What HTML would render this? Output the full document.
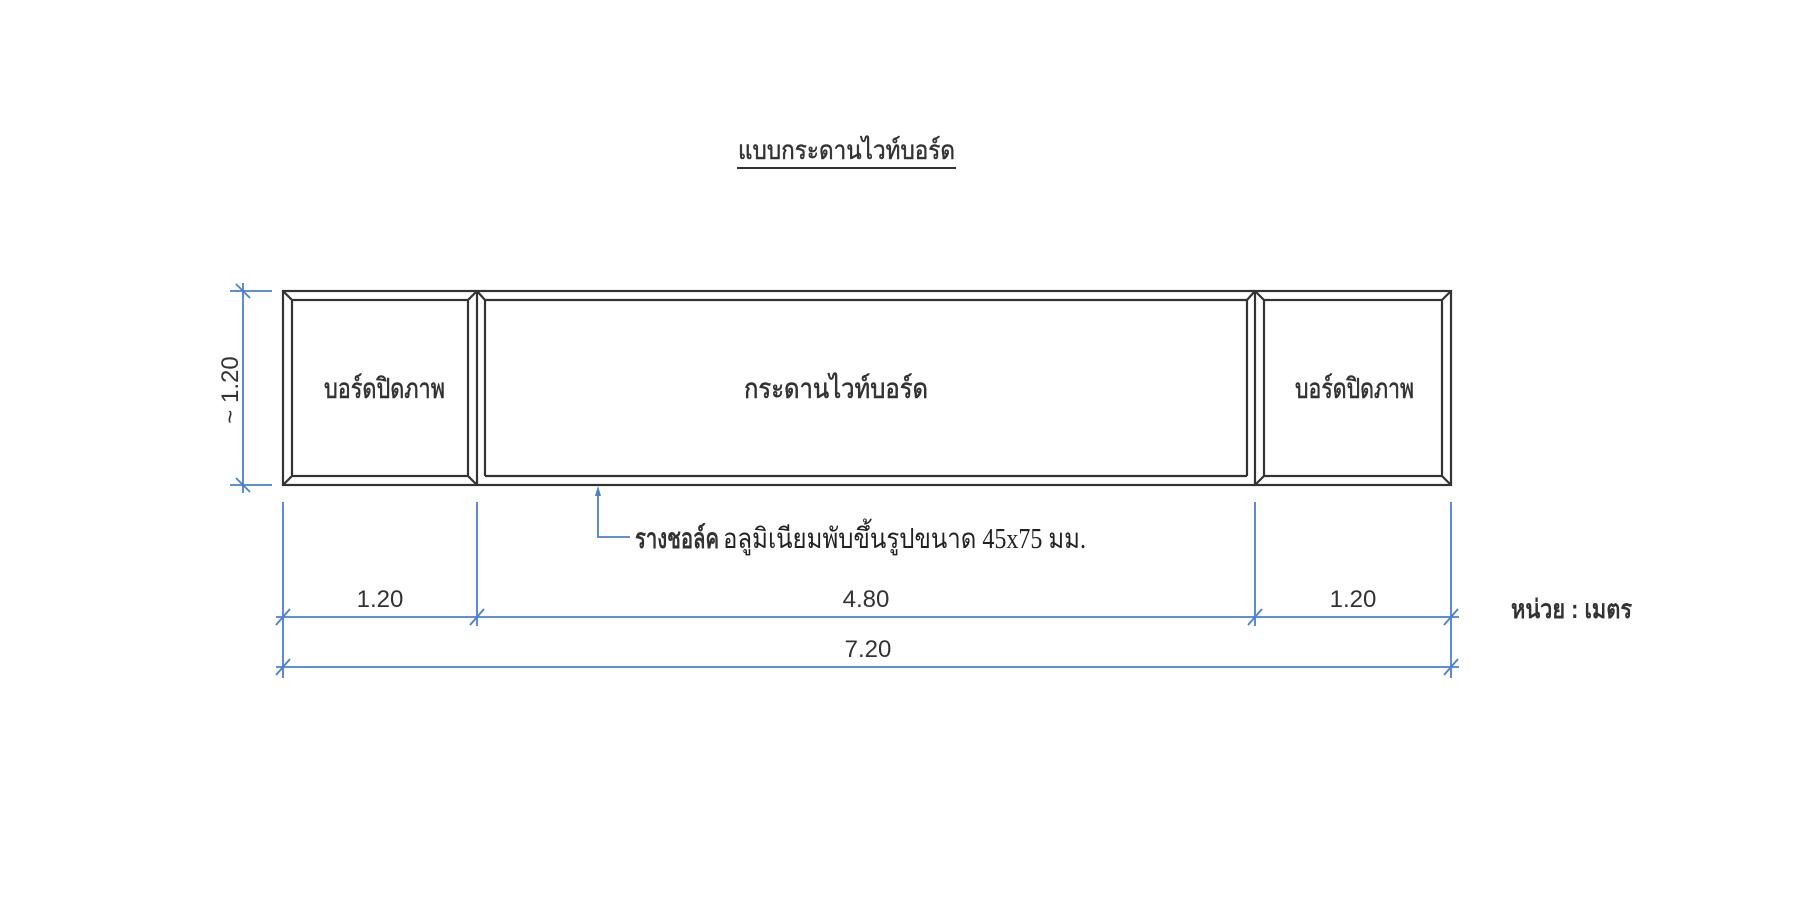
<!DOCTYPE html>
<html><head><meta charset="utf-8"><style>
html,body{margin:0;padding:0;background:#fff;}
svg{display:block;}
</style></head><body>
<svg width="1800" height="900" viewBox="0 0 1800 900" xmlns="http://www.w3.org/2000/svg">
<rect width="1800" height="900" fill="#fff"/>
<g font-family="'Liberation Sans','Noto Sans CJK SC',sans-serif" fill="#333" stroke="#333" stroke-width="0.5">
<text x="738" y="159" font-size="26" textLength="217" lengthAdjust="spacingAndGlyphs">แบบกระดานไวท์บอร์ด</text>
</g>
<line x1="737" y1="168" x2="956" y2="168" stroke="#333" stroke-width="2"/>

<g stroke="#333" stroke-width="2.2" fill="none">
<rect x="283" y="291" width="1168" height="194"/>
<rect x="292" y="300" width="176" height="176"/>
<line x1="283" y1="291" x2="292" y2="300"/><line x1="477" y1="291" x2="468" y2="300"/>
<line x1="283" y1="485" x2="292" y2="476"/><line x1="477" y1="485" x2="468" y2="476"/>
<line x1="477" y1="291" x2="477" y2="485"/>
<line x1="485" y1="300" x2="485" y2="476"/>
<line x1="485" y1="300" x2="1247" y2="300"/>
<line x1="485" y1="476" x2="1247" y2="476"/>
<line x1="1247" y1="300" x2="1247" y2="476"/>
<line x1="477" y1="291" x2="485" y2="300"/><line x1="1255" y1="291" x2="1247" y2="300"/>
<line x1="1255" y1="291" x2="1255" y2="485"/>
<rect x="1264" y="300" width="178" height="176"/>
<line x1="1255" y1="291" x2="1264" y2="300"/><line x1="1451" y1="291" x2="1442" y2="300"/>
<line x1="1255" y1="485" x2="1264" y2="476"/><line x1="1451" y1="485" x2="1442" y2="476"/>
</g>

<g font-family="'Liberation Sans','Noto Sans CJK SC',sans-serif" fill="#333" font-size="28" stroke="#333" stroke-width="0.6">
<text x="324" y="398" textLength="121" lengthAdjust="spacingAndGlyphs">บอร์ดปิดภาพ</text>
<text x="744" y="398" textLength="184" lengthAdjust="spacingAndGlyphs">กระดานไวท์บอร์ด</text>
<text x="1295" y="398" textLength="119" lengthAdjust="spacingAndGlyphs">บอร์ดปิดภาพ</text>
</g>

<g stroke="#4a7fd4" stroke-width="1.8" fill="none">
<line x1="243" y1="283" x2="243" y2="493"/>
<line x1="230" y1="291" x2="272" y2="291"/>
<line x1="230" y1="485" x2="272" y2="485"/>
<line x1="236" y1="284" x2="250" y2="298"/>
<line x1="236" y1="478" x2="250" y2="492"/>
<line x1="283" y1="502" x2="283" y2="678"/>
<line x1="477" y1="502" x2="477" y2="626"/>
<line x1="1255" y1="502" x2="1255" y2="626"/>
<line x1="1451" y1="502" x2="1451" y2="678"/>
<line x1="276" y1="617" x2="1459" y2="617"/>
<line x1="276" y1="667" x2="1459" y2="667"/>
<line x1="276" y1="625" x2="290" y2="609"/>
<line x1="470" y1="625" x2="484" y2="609"/>
<line x1="1248" y1="625" x2="1262" y2="609"/>
<line x1="1444" y1="625" x2="1458" y2="609"/>
<line x1="276" y1="675" x2="290" y2="659"/>
<line x1="1444" y1="675" x2="1458" y2="659"/>
<polyline points="598,492 598,537 630,537"/>
</g>
<polygon points="598,486 595,496 601,496" fill="#4a7fd4"/>

<g font-family="'Liberation Sans',sans-serif" fill="#333" font-size="24">
<text x="380" y="607" text-anchor="middle">1.20</text>
<text x="866" y="607" text-anchor="middle">4.80</text>
<text x="1353" y="607" text-anchor="middle">1.20</text>
<text x="868" y="657" text-anchor="middle">7.20</text>
<text transform="translate(238,390) rotate(-90)" text-anchor="middle">~ 1.20</text>
</g>

<text x="635" y="548" font-family="'Liberation Sans','Noto Sans CJK SC',sans-serif" font-size="28" font-weight="bold" fill="#333" textLength="84" lengthAdjust="spacingAndGlyphs">รางชอล์ค</text>
<text x="723" y="548" font-family="'Liberation Serif','Noto Serif CJK SC',serif" font-size="28" fill="#222" textLength="363" lengthAdjust="spacingAndGlyphs">อลูมิเนียมพับขึ้นรูปขนาด  45x75 มม.</text>

<text x="1511" y="618" font-family="'Liberation Sans','Noto Sans CJK SC',sans-serif" font-size="26" font-weight="bold" fill="#333" textLength="121" lengthAdjust="spacingAndGlyphs">หน่วย : เมตร</text>
</svg>
</body></html>
